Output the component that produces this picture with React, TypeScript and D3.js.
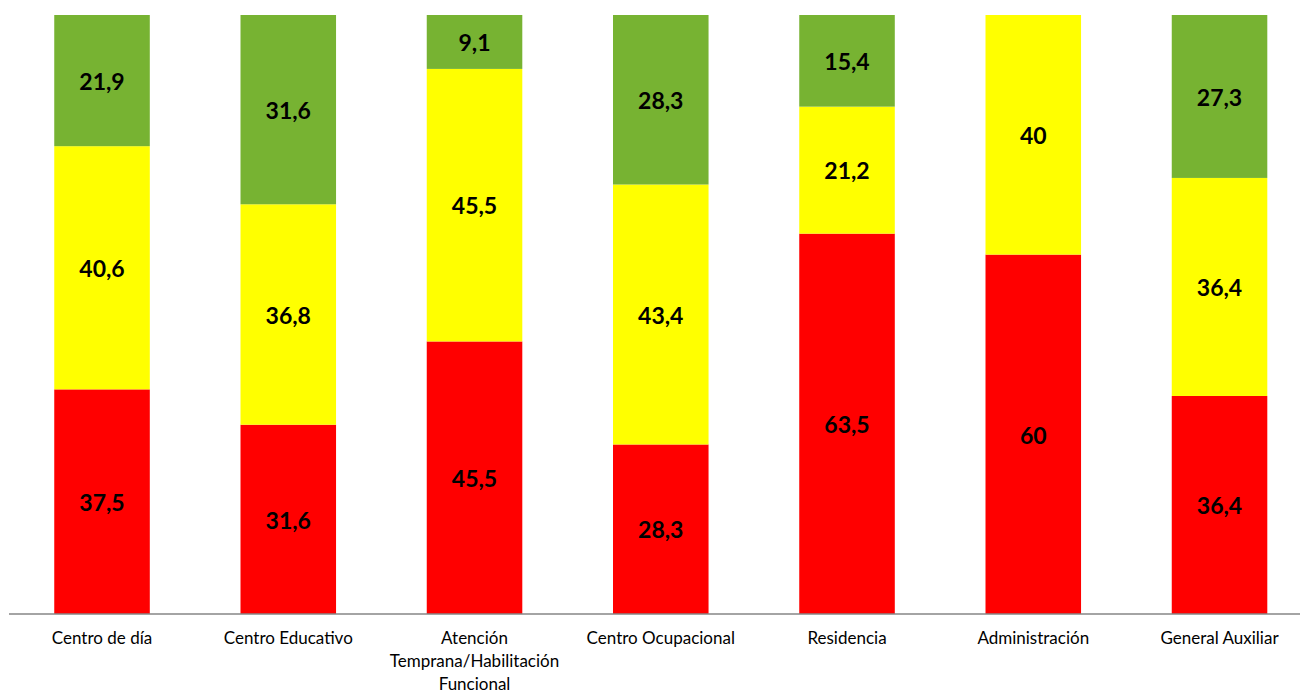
import React, { useEffect, useRef } from "react";
import * as d3 from "d3";

// Categories along the x axis
const categories: string[] = [
  "Centro de día",
  "Centro Educativo",
  "Atención Temprana/Habilitación Funcional",
  "Centro Ocupacional",
  "Residencia",
  "Administración",
  "General Auxiliar",
];

// Percentages per level, stacked bottom to top
const redValues: number[] = [37.5, 31.6, 45.5, 28.3, 63.5, 60, 36.4];
const yellowValues: number[] = [40.6, 36.8, 45.5, 43.4, 21.2, 40, 36.4];
const greenValues: number[] = [21.9, 31.6, 9.1, 28.3, 15.4, 0, 27.3];

const seriesKeys = ["red", "yellow", "green"] as const;
const seriesColors: Record<string, string> = {
  red: "#FF0000",
  yellow: "#FFFF00",
  green: "#77B332",
};

const W = 1300;
const H = 693;

const fmt = (v: number) => String(v).replace(".", ",");

export default function App() {
  const ref = useRef<SVGSVGElement>(null);

  useEffect(() => {
    const svg = d3.select(ref.current);
    svg.selectAll("*").remove();

    const rows = categories.map((c, i) => ({
      cat: c,
      red: redValues[i],
      yellow: yellowValues[i],
      green: greenValues[i],
    }));

    const x = d3
      .scaleBand<string>()
      .domain(categories)
      .range([8.9, 8.9 + 7 * 186.25])
      .paddingInner(0.487)
      .paddingOuter(0.2435);

    const y = d3.scaleLinear().domain([0, 100]).range([614, 15]);

    const stack = d3.stack<any>().keys(seriesKeys as unknown as string[]);
    const stacked = stack(rows);

    const g = svg.append("g");

    stacked.forEach((layer) => {
      const key = layer.key;
      g.selectAll(null)
        .data(layer)
        .enter()
        .append("rect")
        .attr("x", (d: any) => x(d.data.cat)!)
        .attr("width", x.bandwidth())
        .attr("y", (d: any) => y(Math.min(d[1], 100)))
        .attr("height", (d: any) => Math.max(0, y(d[0]) - y(Math.min(d[1], 100))))
        .attr("fill", seriesColors[key]);
    });

    // value labels
    stacked.forEach((layer) => {
      g.selectAll(null)
        .data(layer.filter((d: any) => d[1] - d[0] > 0))
        .enter()
        .append("text")
        .attr("x", (d: any) => x(d.data.cat)! + x.bandwidth() / 2)
        .attr("y", (d: any) => (y(d[0]) + y(Math.min(d[1], 100))) / 2)
        .attr("dy", "0.4em")
        .attr("text-anchor", "middle")
        .attr("font-family", "Lato, 'Liberation Sans', sans-serif")
        .attr("font-weight", "bold")
        .attr("font-size", 23)
        .attr("fill", "#000")
        .text((d: any) => fmt(+d.data[layer.key]));
    });

    // baseline
    g.append("line")
      .attr("x1", 9)
      .attr("x2", 1313)
      .attr("y1", y(0))
      .attr("y2", y(0))
      .attr("stroke", "#868686")
      .attr("stroke-width", 1.5);

    // category labels, wrapped to the band width
    const maxW = x.step() - 10;
    categories.forEach((c) => {
      const t = g
        .append("text")
        .attr("text-anchor", "middle")
        .attr("font-family", "Lato, 'Liberation Sans', sans-serif")
        .attr("font-size", 17)
        .attr("fill", "#000");
      const cx = x(c)! + x.bandwidth() / 2;
      const words = c.split(" ");
      const lines: string[] = [];
      let cur = "";
      const probe = t.append("tspan");
      words.forEach((w) => {
        const test = cur ? cur + " " + w : w;
        probe.text(test);
        const len = (probe.node() as SVGTSpanElement).getComputedTextLength();
        if (len > maxW && cur) {
          lines.push(cur);
          cur = w;
        } else {
          cur = test;
        }
      });
      if (cur) lines.push(cur);
      probe.remove();
      lines.forEach((ln, i) => {
        t.append("tspan")
          .attr("x", cx)
          .attr("y", 644 + i * 23)
          .text(ln);
      });
    });
  }, []);

  return (
    <svg
      ref={ref}
      width={W}
      height={H}
      style={{ position: "absolute", left: 0, top: 0, display: "block", background: "#fff" }}
    />
  );
}
